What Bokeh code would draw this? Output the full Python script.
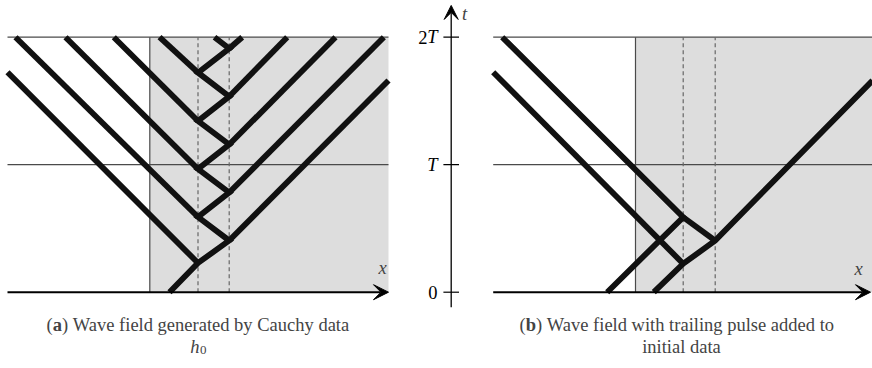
from bokeh.plotting import figure
from bokeh.models import Range1d, Arrow, VeeHead, Label
from bokeh.embed import file_html
from bokeh.resources import INLINE

# ---------------- data (x in horizontal px-like units, t in units of T) ----------------
T_TICKS = [0, 1, 2]
T_LABELS = ["0", "T", "2T"]
AXIS_X = 450.7

# panel (a)
A_X_LEFT, A_X_RIGHT = 7, 388
A_MEDIUM = 149.3
A_DASH = [197.5, 228.7]
A_ZIGZAG_X = [169, 197.5, 228.7, 197.5, 228.7, 197.5, 228.7, 197.5, 228.7, 197.5, 228.7, 214]
A_ZIGZAG_T = [0, 0.229, 0.405, 0.590, 0.782, 0.966, 1.158, 1.343, 1.535, 1.722, 1.911, 2.0]
A_LEFT_RAY_START_T = [0.229, 0.590, 0.966, 1.343, 1.722]
A_LEFT_RAY_END_X = [7, 15, 65, 113.3, 159]
A_LEFT_RAY_END_T = [1.725, 2.0, 2.0, 2.0, 2.0]
A_RIGHT_RAY_START_T = [0.405, 0.782, 1.158, 1.535, 1.911]
A_RIGHT_RAY_END_X = [388, 383.3, 335, 286.7, 241.7]
A_RIGHT_RAY_END_T = [1.660, 2.0, 2.0, 2.0, 2.0]

# panel (b)
B_X_LEFT, B_X_RIGHT = 492.7, 872
B_MEDIUM = 635
B_DASH = [682.7, 714.7]
B_RAYS_X = [[653.3, 682.7, 714.7, 872], [606.7, 682.7, 501.7], [714.7, 682.7], [682.7, 492.7]]
B_RAYS_T = [[0, 0.223, 0.405, 1.66], [0, 0.588, 2.0], [0.405, 0.588], [0.223, 1.725]]

CAPTION_A = "Wave field generated by Cauchy data"
CAPTION_B1 = "Wave field with trailing pulse added to"
CAPTION_B2 = "initial data"

# ---------------- figure ----------------
W, H = 872, 368
T_TOP, T_BOT = 2.2878, -0.5984
p = figure(width=W, height=H, x_range=Range1d(0, 872), y_range=Range1d(T_BOT, T_TOP),
           output_backend="svg", toolbar_location=None, x_axis_type=None, y_axis_type=None,
           min_border=0, min_border_left=0, min_border_right=0, min_border_top=0,
           min_border_bottom=0, outline_line_color=None)
p.grid.visible = False
p.background_fill_color = "white"
p.border_fill_color = "white"

GREY = "#dddddd"
THIN = "#4a4a4a"
WAVE = "#111111"
FONT = "Liberation Serif"

# grey media
p.quad(left=[A_MEDIUM, B_MEDIUM], right=[A_X_RIGHT, B_X_RIGHT], bottom=[0, 0], top=[2, 2],
       fill_color=GREY, line_color=None)

# thin horizontal lines at T and 2T
p.segment(x0=[A_X_LEFT, A_X_LEFT, B_X_LEFT, B_X_LEFT], x1=[A_X_RIGHT, A_X_RIGHT, B_X_RIGHT, B_X_RIGHT],
          y0=[1, 2, 1, 2], y1=[1, 2, 1, 2], line_color=THIN, line_width=1.2)
# medium boundaries
p.segment(x0=[A_MEDIUM, B_MEDIUM], x1=[A_MEDIUM, B_MEDIUM], y0=[0, 0], y1=[2, 2],
          line_color=THIN, line_width=1.2)
# dashed layer boundaries
dx = A_DASH + B_DASH
p.segment(x0=dx, x1=dx, y0=[0] * 4, y1=[2] * 4, line_color="#666666", line_width=1.2,
          line_dash="4 3")

# wave rays
xs, ts = [A_ZIGZAG_X], [A_ZIGZAG_T]
for st, ex, et in zip(A_LEFT_RAY_START_T, A_LEFT_RAY_END_X, A_LEFT_RAY_END_T):
    xs.append([A_DASH[0], ex]); ts.append([st, et])
for st, ex, et in zip(A_RIGHT_RAY_START_T, A_RIGHT_RAY_END_X, A_RIGHT_RAY_END_T):
    xs.append([A_DASH[1], ex]); ts.append([st, et])
xs += B_RAYS_X
ts += B_RAYS_T
p.multi_line(xs=xs, ys=ts, line_color=WAVE, line_width=5.8, line_join="miter", line_cap="butt")

# x axes (bottom) with arrows
p.add_layout(Arrow(end=VeeHead(size=15, fill_color="black", line_color="black"),
                   x_start=A_X_LEFT, y_start=0, x_end=A_X_RIGHT, y_end=0,
                   line_color="black", line_width=2))
p.add_layout(Arrow(end=VeeHead(size=15, fill_color="black", line_color="black"),
                   x_start=B_X_LEFT, y_start=0, x_end=870, y_end=0,
                   line_color="black", line_width=2))

# central t axis
p.add_layout(Arrow(end=VeeHead(size=14, fill_color="black", line_color="black"),
                   x_start=AXIS_X, y_start=-0.118, x_end=AXIS_X, y_end=2.249,
                   line_color="black", line_width=1.3))
p.segment(x0=[AXIS_X - 7.8] * 3, x1=[AXIS_X + 7.8] * 3, y0=T_TICKS, y1=T_TICKS,
          line_color="black", line_width=1.2)

FS = "18.5px"
# tick labels
for tv, lab in zip(T_TICKS, T_LABELS):
    if lab == "0":
        p.add_layout(Label(x=437, y=tv, text=lab, text_font=FONT, text_font_size=FS,
                           text_align="right", text_baseline="middle", text_color="black"))
    else:
        p.add_layout(Label(x=437, y=tv, text="T", text_font=FONT, text_font_size=FS,
                           text_font_style="italic", text_align="right", text_baseline="middle",
                           text_color="black"))
        if lab == "2T":
            p.add_layout(Label(x=427, y=tv, text="2", text_font=FONT, text_font_size=FS,
                               text_align="right", text_baseline="middle", text_color="black"))

# axis letters
p.add_layout(Label(x=464, y=2.185, text="t", text_font=FONT, text_font_size=FS,
                   text_font_style="italic", text_align="center", text_baseline="middle"))
p.add_layout(Label(x=382, y=0.19, text="x", text_font=FONT, text_font_size=FS,
                   text_font_style="italic", text_align="center", text_baseline="middle"))
p.add_layout(Label(x=858, y=0.185, text="x", text_font=FONT, text_font_size=FS,
                   text_font_style="italic", text_align="center", text_baseline="middle"))

# captions
CY1, CY2 = -0.261, -0.426

def caption(x0, letter, rest):
    p.add_layout(Label(x=x0, y=CY1, text="(", text_font=FONT, text_font_size=FS,
                       text_align="left", text_baseline="middle"))
    p.add_layout(Label(x=x0 + 6.2, y=CY1, text=letter, text_font=FONT, text_font_size=FS,
                       text_font_style="bold", text_align="left", text_baseline="middle"))
    wl = 9.3 if letter == "a" else 10.3
    p.add_layout(Label(x=x0 + 6.2 + wl, y=CY1, text=")", text_font=FONT, text_font_size=FS,
                       text_align="left", text_baseline="middle"))
    p.add_layout(Label(x=x0 + 12.4 + wl + 4.6, y=CY1, text=rest, text_font=FONT,
                       text_font_size=FS, text_align="left", text_baseline="middle"))

caption(46, "a", CAPTION_A)
caption(519, "b", CAPTION_B1)
p.add_layout(Label(x=199, y=CY2, text="h", text_font=FONT, text_font_size=FS,
                   text_font_style="italic", text_align="right", text_baseline="middle"))
p.add_layout(Label(x=199.5, y=CY2 - 0.03, text="0", text_font=FONT, text_font_size="13px",
                   text_align="left", text_baseline="middle"))
p.add_layout(Label(x=681, y=CY2, text=CAPTION_B2, text_font=FONT, text_font_size=FS,
                   text_align="center", text_baseline="middle"))

open("out.html", "w").write(file_html(p, INLINE))
